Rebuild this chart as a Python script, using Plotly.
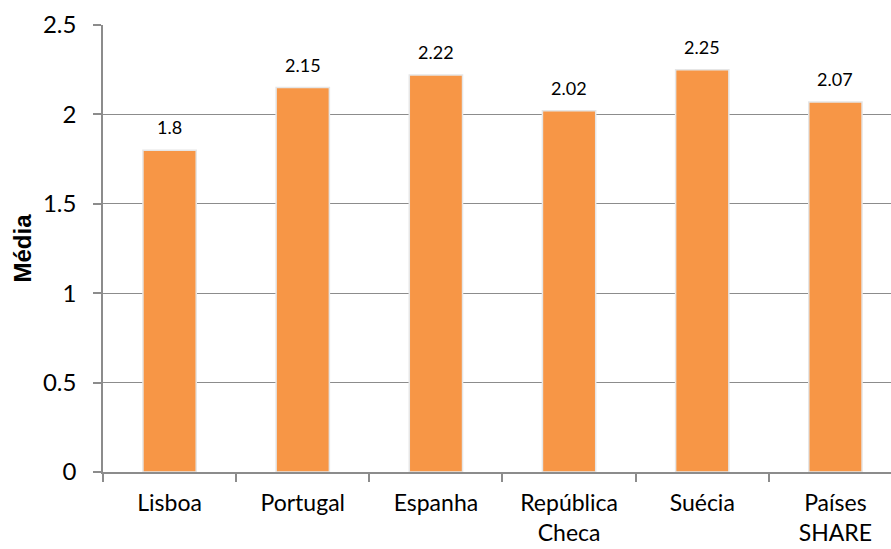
import plotly.graph_objects as go

categories = ["Lisboa", "Portugal", "Espanha", "República<br>Checa", "Suécia", "Países<br>SHARE"]
values = [1.8, 2.15, 2.22, 2.02, 2.25, 2.07]
value_labels = ["1.8", "2.15", "2.22", "2.02", "2.25", "2.07"]
y_ticks = [0, 0.5, 1, 1.5, 2, 2.5]
y_tick_labels = ["0", "0.5", "1", "1.5", "2", "2.5"]

font_family = "Lato, 'Open Sans', sans-serif"
axis_gray = "#8c8c8c"

fig = go.Figure()
fig.add_trace(go.Bar(
    x=categories,
    y=values,
    width=0.4,
    marker=dict(color="#F79646", line=dict(color="#e6e6e6", width=1.5)),
    hoverinfo="x+y",
))

# value labels above each bar
for cat, val, lab in zip(categories, values, value_labels):
    fig.add_annotation(
        x=cat, y=val, text=lab, showarrow=False,
        yshift=23, font=dict(family=font_family, size=18, color="#000000"),
    )

# rotated y-axis title
fig.add_annotation(
    xref="paper", yref="paper", x=0, y=0.5, xshift=-81,
    xanchor="center", yanchor="middle",
    text="<b>Média</b>", textangle=-90, showarrow=False,
    font=dict(family="'Liberation Sans', Arial, sans-serif", size=24, color="#000000"),
)

fig.update_layout(
    width=891, height=549,
    margin=dict(l=103, r=0, t=25, b=77),
    paper_bgcolor="white", plot_bgcolor="white",
    showlegend=False,
    font=dict(family=font_family, size=24, color="#000000"),
    xaxis=dict(
        type="category",
        range=[-0.5, 5.4175],
        automargin=False,
        showline=True, linecolor=axis_gray, linewidth=1.5,
        ticks="outside", tickson="boundaries", ticklen=8, tickcolor=axis_gray, tickwidth=1.5,
        showgrid=False,
        ticklabelstandoff=10,
        tickfont=dict(family=font_family, size=23),
    ),
    yaxis=dict(
        range=[0, 2.5],
        automargin=False,
        tickvals=y_ticks, ticktext=y_tick_labels,
        showline=True, linecolor=axis_gray, linewidth=1.5,
        ticks="outside", ticklen=8, tickcolor=axis_gray, tickwidth=1.5,
        showgrid=True, gridcolor=axis_gray, gridwidth=1.2,
        zeroline=False,
        ticklabelstandoff=12,
        tickfont=dict(family=font_family, size=24),
    ),
)

fig.write_html("out.html")
